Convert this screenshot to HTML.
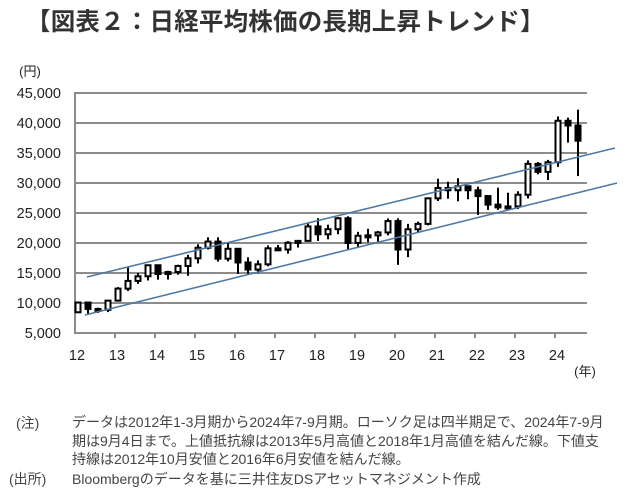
<!DOCTYPE html>
<html><head><meta charset="utf-8">
<style>
body{margin:0;width:640px;height:499px;background:#fff;overflow:hidden;font-family:"Liberation Sans","Noto Sans CJK JP",sans-serif;color:#222}
.t{position:absolute;white-space:nowrap}
</style></head><body>
<div class="t" style="left:26px;top:3px;font-size:24.5px;font-weight:bold;color:#333;letter-spacing:0.2px">【図表２：日経平均株価の長期上昇トレンド】</div>
<svg id="chart" width="640" height="400" style="position:absolute;left:0;top:0"></svg>
<div class="t" style="left:16px;top:413px;font-size:14px;color:#444">(注)</div>
<div class="t" style="left:72px;top:413px;font-size:14px;line-height:18.5px;color:#444">データは2012年1-3月期から2024年7-9月期。ローソク足は四半期足で、2024年7-9月<br>期は9月4日まで。上値抵抗線は2013年5月高値と2018年1月高値を結んだ線。下値支<br>持線は2012年10月安値と2016年6月安値を結んだ線。</div>
<div class="t" style="left:9px;top:469px;font-size:14px;color:#444">(出所)</div>
<div class="t" style="left:72px;top:469px;font-size:14px;color:#444">Bloombergのデータを基に三井住友DSアセットマネジメント作成</div>
<script>
const yTicks=[5000,10000,15000,20000,25000,30000,35000,40000,45000];
const yearLabels=["12","13","14","15","16","17","18","19","20","21","22","23","24"];
const opens=[8455,10083,9006,8870,10395,12397,13677,14455,16291,14827,15162,16173,17450,19206,20235,17388,19033,16758,15575,16449,19114,18909,20033,20356,22764,21454,22305,24120,20014,21206,21276,21756,23657,18917,22288,23185,27444,29179,28792,29453,28792,27821,26393,25937,26095,28041,33189,31858,33464,40369,39583];
const highs=[10255,10190,9222,10433,12650,15942,15000,16320,16164,15376,16374,18030,19778,20952,20946,20012,19033,17613,17100,19592,19668,20318,20481,23382,24129,23050,24306,24448,21860,22362,22000,24091,24116,23185,23559,27602,30714,30208,30796,29490,29388,27850,29222,28384,28624,33772,33488,33853,41087,40888,42224];
const lows=[8349,8238,8328,8488,10398,12003,13188,13748,13885,13910,14720,14529,16592,18924,16901,16930,14865,14864,14952,16111,18650,18224,19239,20397,20347,20617,21462,18949,19241,20110,20110,21276,16358,17646,21710,22948,27002,27385,26954,27293,24681,25520,25520,25621,25662,27427,31450,30487,32693,36733,31156];
const closes=[10083,9006,8870,10395,12397,13677,14455,16291,14827,15162,16173,17450,19206,20235,17388,19033,16758,15575,16449,19114,18909,20033,20356,22764,21454,22305,24120,20014,21206,21276,21756,23657,18917,22288,23185,27444,29179,28792,29453,28792,27821,26393,25937,26095,28041,33189,31858,33464,40369,39583,37047];
const trendUpper=[[87,277],[615,148]];
const trendLower=[[85,315],[617,183]];
const NS="http://www.w3.org/2000/svg",svg=document.getElementById('chart');
const X0=75,X1=587,Y0=333,Y1=93;
const y=v=>Y0-(v-5000)/40000*(Y0-Y1);
const xq=i=>X0+10*i+3;
function mk(t,a){const e=document.createElementNS(NS,t);for(const k in a)e.setAttribute(k,a[k]);svg.appendChild(e);return e;}
yTicks.forEach((v,i)=>{
 const g=mk('line',{x1:X0,x2:X1,y1:y(v),y2:y(v),stroke:'#8c8c8c','stroke-width':2});
 
 
 const t=mk('text',{x:61,y:y(v)+5,'text-anchor':'end','font-size':14.5,fill:'#222'});
 t.textContent=v.toLocaleString('en-US');
 
 
});
const ax=mk('line',{x1:X0,x2:X0,y1:Y1-1,y2:Y0+1,stroke:'#8c8c8c','stroke-width':2});


yearLabels.forEach((l,k)=>{
 const xx=X0+40*k;
 if(k>0){const tk=mk('line',{x1:xx,x2:xx,y1:Y0,y2:Y0+5,stroke:'#8c8c8c','stroke-width':2});
 
 }
 const t=mk('text',{x:xx+2,y:360,'text-anchor':'middle','font-size':14.5,fill:'#222'});
 t.textContent=l;
 
 
});
const u=mk('text',{x:30,y:76,'text-anchor':'middle','font-size':13,fill:'#222'});u.textContent='(円)';


const yr=mk('text',{x:585,y:376,'text-anchor':'middle','font-size':13,fill:'#222'});yr.textContent='(年)';


opens.forEach((o,i)=>{
 const c=closes[i],x=xq(i);
 const w=mk('line',{x1:x,x2:x,y1:y(highs[i]),y2:y(lows[i]),stroke:'#000','stroke-width':2});
 
 
 const top=y(Math.max(o,c)),h=Math.max(2,Math.abs(y(o)-y(c)));
 const b=mk('rect',{x:x-2.5,y:top,width:5,height:h,fill:c>=o?'#fff':'#000',stroke:'#000','stroke-width':2});
 
 
});
[trendUpper,trendLower].forEach((p,k)=>{
 const l=mk('line',{x1:p[0][0],y1:p[0][1],x2:p[1][0],y2:p[1][1],stroke:'#4f7aa6','stroke-width':1.6});
 
 
});
</script>
</body></html>
